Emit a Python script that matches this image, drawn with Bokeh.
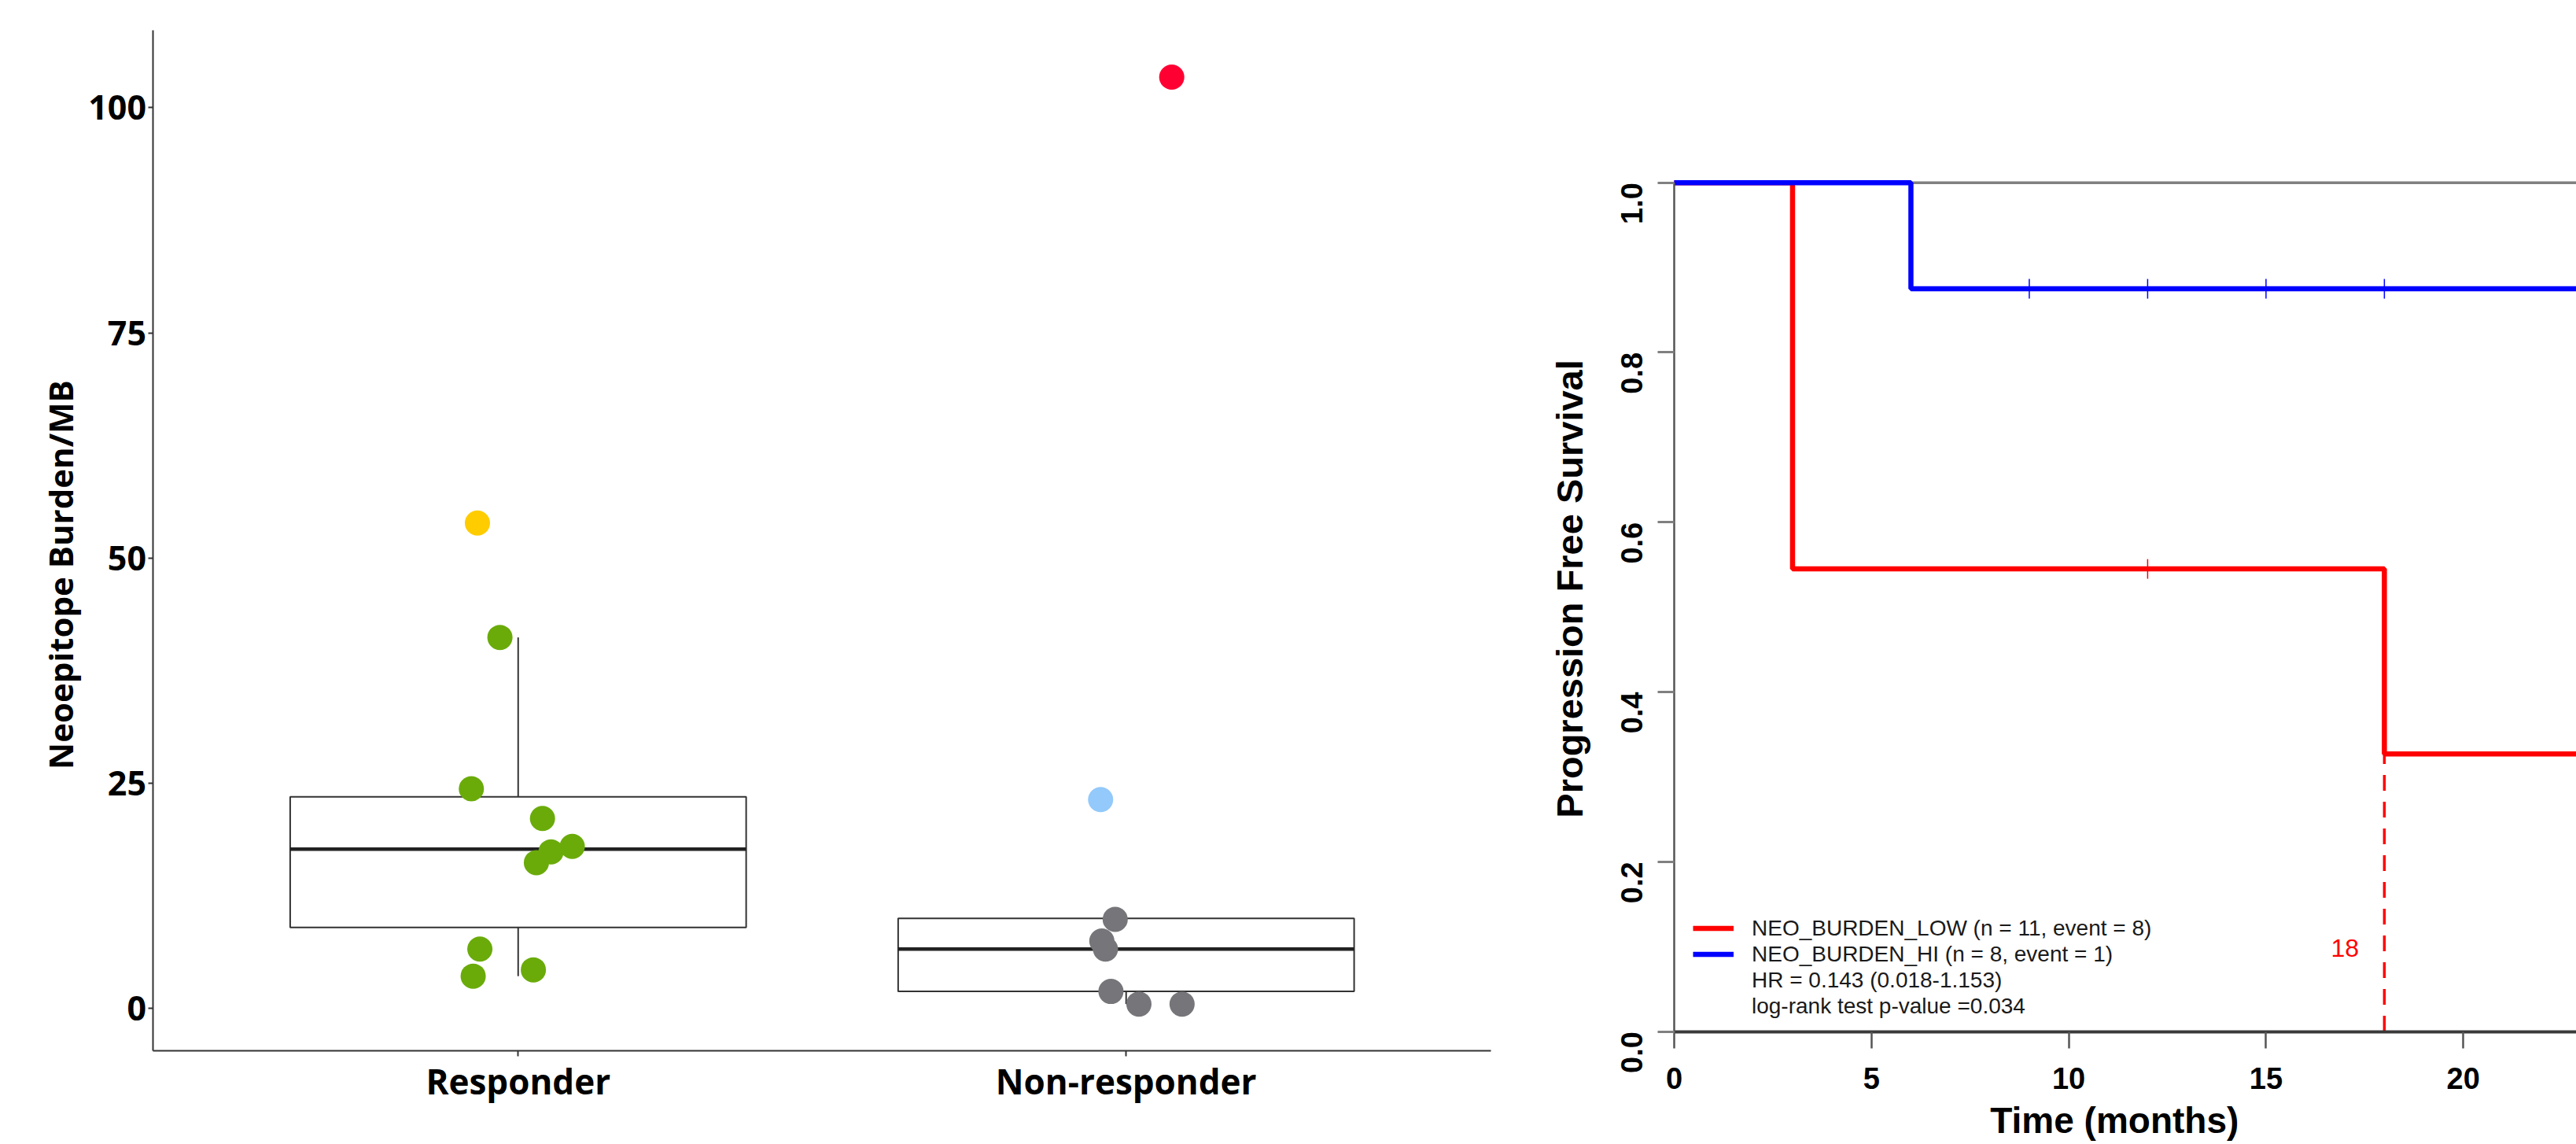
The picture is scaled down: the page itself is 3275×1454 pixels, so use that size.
import math
import numpy as np
from bokeh.plotting import figure
from bokeh.models import (Range1d, FixedTicker, Label, Legend, LegendItem, LinearAxis,
                          PrintfTickFormatter)
from bokeh.embed import file_html
from bokeh.resources import INLINE
from bokeh.core.properties import value

# ---------------- Data: neoepitope burden (left panel) ----------------
categories = ["Responder", "Non-responder"]
responder_values = [53.9, 41.2, 24.4, 21.1, 18.0, 17.4, 16.2, 6.6, 4.3, 3.6]
responder_colors = ["#ffcc00"] + ["#6aab0a"] * 9
responder_jitter = [-0.067, -0.030, -0.077, 0.040, 0.089, 0.054, 0.030, -0.063, 0.025, -0.074]
nonresp_values = [103.4, 23.2, 9.9, 7.5, 6.6, 1.9, 0.5, 0.5]
nonresp_colors = ["#ff0033", "#93c9fb"] + ["#76767a"] * 6
nonresp_jitter = [0.075, -0.042, -0.018, -0.040, -0.034, -0.025, 0.021, 0.092]
box_q1 = [9.0, 1.9]
box_median = [17.7, 6.6]
box_q3 = [23.5, 10.0]
whisker_lo = [3.6, 0.5]
whisker_hi = [41.2, 10.0]
y_ticks_left = [0, 25, 50, 75, 100]
left_y_limits = (-4.65, 108.6)
left_x_limits = (0.4, 2.6)

# ---------------- Data: progression free survival (right panel) ----------------
low_times = [0, 3, 18, 24]
low_surv = [1.0, 0.545, 0.327, 0.327]
hi_times = [0, 6, 24]
hi_surv = [1.0, 0.875, 0.875]
low_censor_times = [12]
hi_censor_times = [9, 12, 15, 18]
median_low = 18
x_ticks_km = [0, 5, 10, 15, 20]
y_ticks_km = [0.0, 0.2, 0.4, 0.6, 0.8, 1.0]
legend_labels = ["NEO_BURDEN_LOW (n = 11, event = 8)",
                 "NEO_BURDEN_HI (n = 8, event = 1)",
                 "HR = 0.143 (0.018-1.153)",
                 "log-rank test p-value =0.034"]


def step_value(times, surv, t):
    i = int(np.searchsorted(times, t, side="right")) - 1
    return surv[i]


# One canvas holding both panels; each panel has its own ranges and axes.
W, H = 3275, 1454
p = figure(width=W, height=H,
           x_range=Range1d(0.14837, 4.38538), y_range=Range1d(-15.079, 111.919),
           x_axis_location=None, y_axis_location=None,
           output_backend="svg", toolbar_location=None,
           min_border_left=0, min_border_right=0, min_border_top=0, min_border_bottom=0)
p.extra_x_ranges = {"km": Range1d(-42.424, 22.867)}
p.extra_y_ranges = {"km": Range1d(-0.13291, 1.21475)}
p.grid.visible = False
p.outline_line_color = None
p.background_fill_color = "white"
p.border_fill_color = "white"

# ---------------- Left panel: box plot + jittered points ----------------
pos = [i + 1 for i in range(len(categories))]
half_w = 0.375
line_col = "#333333"
p.segment(x0=pos, x1=pos, y0=box_q3, y1=whisker_hi, line_color=line_col, line_width=2)
p.segment(x0=pos, x1=pos, y0=whisker_lo, y1=box_q1, line_color=line_col, line_width=2)
p.quad(left=[c - half_w for c in pos], right=[c + half_w for c in pos],
       bottom=box_q1, top=box_q3, fill_color="white", line_color=line_col, line_width=2)
p.segment(x0=[c - half_w for c in pos], x1=[c + half_w for c in pos],
          y0=box_median, y1=box_median, line_color="#222222", line_width=4.5)

p.scatter(x=[pos[0] + j for j in responder_jitter], y=responder_values,
          size=32, fill_color=responder_colors, line_color=None)
p.scatter(x=[pos[1] + j for j in nonresp_jitter], y=nonresp_values,
          size=32, fill_color=nonresp_colors, line_color=None)

xa = LinearAxis(fixed_location=left_y_limits[0], bounds=left_x_limits,
                ticker=FixedTicker(ticks=pos),
                major_label_overrides={q: c for q, c in zip(pos, categories)})
xa.major_label_text_font = "Open Sans"
xa.major_label_text_font_style = "bold"
xa.major_label_text_font_size = "44px"
xa.major_label_text_color = "black"
xa.major_label_standoff = 2
xa.major_tick_out = 7
xa.major_tick_in = 0
xa.minor_tick_line_color = None
xa.axis_line_color = line_col
xa.axis_line_width = 2
xa.major_tick_line_color = line_col
xa.major_tick_line_width = 2
p.add_layout(xa, "below")

ya = LinearAxis(fixed_location=left_x_limits[0], bounds=left_y_limits,
                ticker=FixedTicker(ticks=y_ticks_left))
ya.major_label_text_font = "Open Sans"
ya.major_label_text_font_style = "bold"
ya.major_label_text_font_size = "43px"
ya.major_label_text_color = "black"
ya.major_label_standoff = 3
ya.major_tick_out = 6
ya.major_tick_in = 0
ya.minor_tick_line_color = None
ya.axis_line_color = line_col
ya.axis_line_width = 2
ya.major_tick_line_color = line_col
ya.major_tick_line_width = 2
p.add_layout(ya, "left")

p.add_layout(Label(x=0.24734, y=48.15, text="Neoepitope Burden/MB", angle=math.pi / 2,
                   text_align="center", text_baseline="middle",
                   text_font="Open Sans", text_font_style="bold",
                   text_font_size="42px", text_color="black"))

# ---------------- Right panel: Kaplan-Meier curves ----------------
km = dict(x_range_name="km", y_range_name="km")

p.ray(x=[0], y=[1.0], length=0, angle=0, line_color="#808080", line_width=3.6, **km)

r_low = p.step(x=low_times, y=low_surv, mode="after", line_color="#ff0000", line_width=6.5, **km)
r_hi = p.step(x=hi_times, y=hi_surv, mode="after", line_color="#0000ff", line_width=6.5, **km)
r_txt = p.step(x=hi_times, y=hi_surv, mode="after", line_alpha=0, **km)

p.scatter(x=hi_censor_times, y=[step_value(hi_times, hi_surv, t) for t in hi_censor_times],
          marker="dash", angle=math.pi / 2, size=25, line_color="#0000ff", line_width=1.5, **km)
p.scatter(x=low_censor_times, y=[step_value(low_times, low_surv, t) for t in low_censor_times],
          marker="dash", angle=math.pi / 2, size=25, line_color="#ff0000", line_width=1.5, **km)

med_y = step_value(low_times, low_surv, median_low)
p.segment(x0=[median_low], x1=[median_low], y0=[0], y1=[med_y],
          line_color="#ff0000", line_width=3.5, line_dash="20 14", **km)
p.text(x=[median_low - 1.0], y=[0.098], text=[str(median_low)], text_color="#ff0000",
       text_font=value("Liberation Sans"), text_font_size="32px",
       text_align="center", text_baseline="middle", **km)

legend = Legend(items=[LegendItem(label=legend_labels[0], renderers=[r_low]),
                       LegendItem(label=legend_labels[1], renderers=[r_hi]),
                       LegendItem(label=legend_labels[2], renderers=[r_txt]),
                       LegendItem(label=legend_labels[3], renderers=[r_txt])],
                location=(2152, 159), border_line_color=None, background_fill_alpha=0,
                padding=0, margin=0, spacing=0, glyph_width=52, glyph_height=33,
                label_height=33, label_standoff=23, label_text_font="Liberation Sans",
                label_text_font_size="28px", label_text_color="#1a1a1a")
p.add_layout(legend)

xb = LinearAxis(fixed_location=0, bounds=(0, 22.867), ticker=FixedTicker(ticks=x_ticks_km), **km)
xb.major_label_text_font = "Liberation Sans"
xb.major_label_text_font_style = "bold"
xb.major_label_text_font_size = "38px"
xb.major_label_text_color = "black"
xb.major_label_standoff = 25
xb.major_tick_out = 21
xb.major_tick_in = 0
xb.minor_tick_line_color = None
xb.axis_line_color = "#3a3a3a"
xb.axis_line_width = 4
xb.major_tick_line_color = "#555555"
xb.major_tick_line_width = 2.5
p.add_layout(xb, "below")

yb = LinearAxis(fixed_location=0, bounds=(0, 1), ticker=FixedTicker(ticks=y_ticks_km),
                formatter=PrintfTickFormatter(format="%.1f"), **km)
yb.major_label_orientation = math.pi / 2
yb.major_label_text_font = "Liberation Sans"
yb.major_label_text_font_style = "bold"
yb.major_label_text_font_size = "38px"
yb.major_label_text_color = "black"
yb.major_label_standoff = 33
yb.major_tick_out = 21
yb.major_tick_in = 0
yb.minor_tick_line_color = None
yb.axis_line_color = "#555555"
yb.axis_line_width = 2.5
yb.major_tick_line_color = "#808080"
yb.major_tick_line_width = 3
p.add_layout(yb, "left")

p.add_layout(Label(x=-2.652, y=0.5215, text="Progression Free Survival", angle=math.pi / 2,
                   text_align="center", text_baseline="middle",
                   text_font="Liberation Sans", text_font_style="bold",
                   text_font_size="47px", text_color="black", **km))
p.add_layout(Label(x=11.16, y=-0.1051, text="Time (months)",
                   text_align="center", text_baseline="middle",
                   text_font="Liberation Sans", text_font_style="bold",
                   text_font_size="46px", text_color="black", **km))

open("out.html", "w").write(file_html(p, INLINE))
